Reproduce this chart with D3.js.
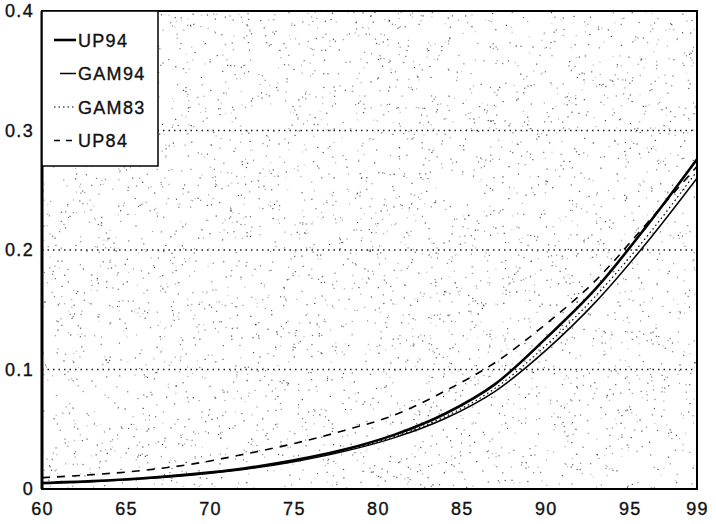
<!DOCTYPE html>
<html>
<head>
<meta charset="utf-8">
<script src="https://cdn.jsdelivr.net/npm/d3@7"></script>
<style>
  body { margin: 0; background: #fff; }
  text { font-family: "Liberation Sans", Arial, sans-serif; fill: #111; stroke: #111; stroke-width: 0.35; letter-spacing: 1.3px; }
</style>
</head>
<body>
<svg id="chart" width="716" height="524"></svg>
<script>
// ages
const ages = [60, 63, 66, 69, 72, 75, 78, 81, 84, 87, 90, 93, 96, 99];

// mortality rates
const up94  = [0.0050, 0.0066, 0.0090, 0.0125, 0.0172, 0.0240, 0.0330, 0.0455, 0.0630, 0.0880, 0.1260, 0.1680, 0.2200, 0.2760];
const gam94 = [0.0045, 0.0062, 0.0085, 0.0118, 0.0163, 0.0228, 0.0315, 0.0430, 0.0590, 0.0820, 0.1160, 0.1570, 0.2060, 0.2600];
const gam83 = [0.0050, 0.0068, 0.0092, 0.0126, 0.0172, 0.0236, 0.0322, 0.0440, 0.0605, 0.0845, 0.1200, 0.1620, 0.2110, 0.2660];
const up84  = [0.0095, 0.0120, 0.0155, 0.0210, 0.0290, 0.0380, 0.0490, 0.0620, 0.0820, 0.1060, 0.1380, 0.1750, 0.2220, 0.2700];

const xTicks = [60, 65, 70, 75, 80, 85, 90, 95, 99];
const yTicks = [0, 0.1, 0.2, 0.3, 0.4];
const gridLevels = [0.1, 0.2, 0.3];

const series = [
    { name: 'UP94',  values: up94,  width: 2.6, dash: null },
    { name: 'GAM94', values: gam94, width: 1.5, dash: null },
    { name: 'GAM83', values: gam83, width: 1.2, dash: '1.5,3' },
    { name: 'UP84',  values: up84,  width: 1.6, dash: '8,7' }
];

const margin = { left: 42, right: 19, top: 11, bottom: 35 };
const width = 716 - margin.left - margin.right;
const height = 524 - margin.top - margin.bottom;

const svg = d3.select('#chart');
const g = svg.append('g').attr('transform', `translate(${margin.left},${margin.top})`);

const x = d3.scaleLinear().domain([60, 99]).range([0, width]);
const y = d3.scaleLinear().domain([0, 0.4]).range([height, 0]);

// speckled scan background (decoration only)
let seed = 7;
function rnd() { seed = (seed * 16807) % 2147483647; return (seed - 1) / 2147483646; }
const speck = g.append('g');
for (let i = 0; i < 4000; i++) {
    speck.append('rect')
        .attr('x', rnd() * width)
        .attr('y', rnd() * height)
        .attr('width', 1.2)
        .attr('height', 1.2)
        .attr('fill', '#000')
        .attr('opacity', 0.2 + rnd() * 0.55);
}

// dotted grid lines
g.selectAll('.grid')
    .data(gridLevels)
    .enter().append('line')
    .attr('x1', 0).attr('x2', width)
    .attr('y1', d => y(d)).attr('y2', d => y(d))
    .attr('stroke', '#222')
    .attr('stroke-width', 1.3)
    .attr('stroke-dasharray', '1.5,4');

// axes, labels only
const xAxis = g.append('g')
    .attr('transform', `translate(0,${height})`)
    .call(d3.axisBottom(x).tickValues(xTicks).tickSize(0).tickPadding(13));
xAxis.select('.domain').remove();
xAxis.selectAll('text').attr('font-size', 18).attr('fill', '#111');

const yAxis = g.append('g')
    .call(d3.axisLeft(y).tickValues(yTicks).tickSize(0).tickPadding(8)
        .tickFormat(d => d === 0 ? '0' : d3.format('.1f')(d)));
yAxis.select('.domain').remove();
yAxis.selectAll('text').attr('font-size', 18).attr('fill', '#111');

// curves
const line = d3.line()
    .x((d, i) => x(ages[i]))
    .y(d => y(d))
    .curve(d3.curveMonotoneX);

series.forEach(s => {
    g.append('path')
        .datum(s.values)
        .attr('d', line)
        .attr('fill', 'none')
        .attr('stroke', '#000')
        .attr('stroke-width', s.width)
        .attr('stroke-dasharray', s.dash);
});

// frame
g.append('rect')
    .attr('x', 0).attr('y', 0)
    .attr('width', width).attr('height', height)
    .attr('fill', 'none')
    .attr('stroke', '#000')
    .attr('stroke-width', 2);
g.append('line')
    .attr('x1', 0).attr('x2', 0).attr('y1', 0).attr('y2', height)
    .attr('stroke', '#000').attr('stroke-width', 3);

// legend
const legend = g.append('g');
legend.append('rect')
    .attr('x', 0).attr('y', 0)
    .attr('width', 116).attr('height', 155)
    .attr('fill', '#fff')
    .attr('stroke', '#000')
    .attr('stroke-width', 1.5);

const item = legend.selectAll('.item')
    .data(series)
    .enter().append('g')
    .attr('transform', (d, i) => `translate(0,${29 + i * 33.5})`);

item.append('line')
    .attr('x1', d => d.name === 'GAM94' ? 18 : 12)
    .attr('x2', 34)
    .attr('y1', 0).attr('y2', 0)
    .attr('stroke', '#000')
    .attr('stroke-width', d => d.width)
    .attr('stroke-dasharray', d => d.name === 'UP84' ? '6,6' : d.dash);

item.append('text')
    .attr('x', 36)
    .attr('y', 6.5)
    .attr('font-size', 18)
    .text(d => d.name);
</script>
</body>
</html>
